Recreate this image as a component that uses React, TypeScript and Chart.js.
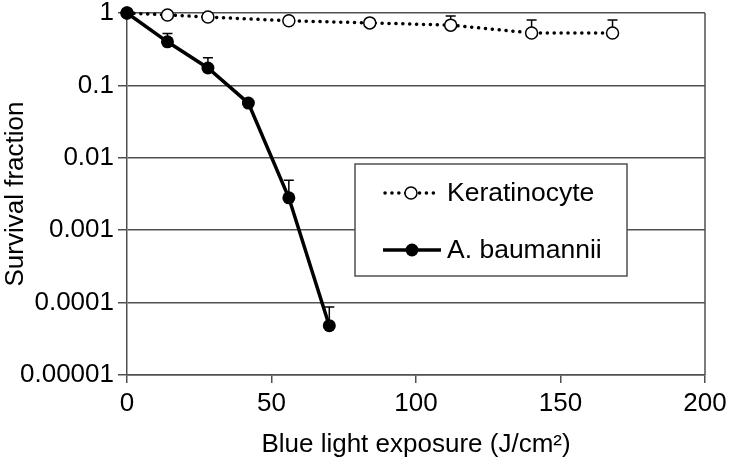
import React, { useEffect, useRef } from 'react';
import { Chart, registerables } from 'chart.js';
Chart.register(...registerables);

const exposureBaumannii = [0, 14, 28, 42, 56, 70];
const survivalBaumannii = [1, 0.40, 0.174, 0.057, 0.0028, 0.000048];
const errorUpperBaumannii = [null, 0.52, 0.24, null, 0.0049, 0.000087];

const exposureKeratinocyte = [0, 14, 28, 56, 84, 112, 140, 168];
const survivalKeratinocyte = [1, 0.94, 0.88, 0.78, 0.73, 0.68, 0.53, 0.53];
const errorUpperKeratinocyte = [null, null, null, null, null, 0.91, 0.8, 0.8];

const yTickValues = [1, 0.1, 0.01, 0.001, 0.0001, 0.00001];
const yTickLabels = ['1', '0.1', '0.01', '0.001', '0.0001', '0.00001'];
const xTickValues = [0, 50, 100, 150, 200];
const seriesNames = ['Keratinocyte', 'A. baumannii'];
const xTitle = 'Blue light exposure (J/cm²)';
const yTitle = 'Survival fraction';

const FONT = "'Liberation Sans', Arial, Helvetica, sans-serif";
const GRID = '#505050';

const errorBarPlugin = {
  id: 'errorBars',
  beforeDatasetsDraw(chart: any) {
    const ctx = chart.ctx;
    const xs = chart.scales.x;
    const ys = chart.scales.y;
    const sets = [
      { xv: exposureBaumannii, yv: survivalBaumannii, up: errorUpperBaumannii },
      { xv: exposureKeratinocyte, yv: survivalKeratinocyte, up: errorUpperKeratinocyte },
    ];
    ctx.save();
    ctx.strokeStyle = '#000';
    ctx.lineWidth = 1.5;
    for (const s of sets) {
      s.xv.forEach((xv: number, i: number) => {
        const u = s.up[i];
        if (u == null) return;
        const px = xs.getPixelForValue(xv);
        const py = ys.getPixelForValue(s.yv[i]);
        const pu = ys.getPixelForValue(u);
        ctx.beginPath();
        ctx.moveTo(px, py);
        ctx.lineTo(px, pu);
        ctx.moveTo(px - 5, pu);
        ctx.lineTo(px + 5, pu);
        ctx.stroke();
      });
    }
    ctx.restore();
  },
};

const framePlugin = {
  id: 'frameRight',
  beforeDatasetsDraw(chart: any) {
    const { ctx, chartArea } = chart;
    ctx.save();
    ctx.strokeStyle = GRID;
    ctx.lineWidth = 1.5;
    ctx.beginPath();
    ctx.moveTo(chartArea.right, chartArea.top);
    ctx.lineTo(chartArea.right, chartArea.bottom);
    ctx.stroke();
    ctx.restore();
  },
};

const legendPlugin = {
  id: 'boxLegend',
  afterDraw(chart: any) {
    const ctx = chart.ctx;
    const bx = 355, by = 164, bw = 272, bh = 112;
    ctx.save();
    ctx.fillStyle = '#fff';
    ctx.fillRect(bx, by, bw, bh);
    ctx.strokeStyle = GRID;
    ctx.lineWidth = 1.5;
    ctx.strokeRect(bx, by, bw, bh);

    // Keratinocyte
    const y1 = 193;
    ctx.strokeStyle = '#000';
    ctx.lineWidth = 3.5;
    ctx.lineCap = 'round';
    ctx.setLineDash([0.1, 6.8]);
    ctx.beginPath();
    ctx.moveTo(385, y1);
    ctx.lineTo(440, y1);
    ctx.stroke();
    ctx.setLineDash([]);
    ctx.beginPath();
    ctx.arc(411, y1, 6, 0, Math.PI * 2);
    ctx.fillStyle = '#fff';
    ctx.fill();
    ctx.lineWidth = 1.5;
    ctx.stroke();

    // A. baumannii
    const y2 = 250;
    ctx.lineWidth = 3.5;
    ctx.lineCap = 'butt';
    ctx.beginPath();
    ctx.moveTo(383, y2);
    ctx.lineTo(441, y2);
    ctx.stroke();
    ctx.beginPath();
    ctx.arc(412, y2, 6.5, 0, Math.PI * 2);
    ctx.fillStyle = '#000';
    ctx.fill();

    ctx.fillStyle = '#000';
    ctx.font = `26.5px ${FONT}`;
    ctx.textBaseline = 'middle';
    ctx.textAlign = 'left';
    ctx.fillText(seriesNames[0], 447, y1 + 1);
    ctx.fillText(seriesNames[1], 447, y2 + 1);
    ctx.restore();
  },
};

export default function App() {
  const ref = useRef<HTMLCanvasElement>(null);
  useEffect(() => {
    if (!ref.current) return;
    const chart = new Chart(ref.current, {
      type: 'line',
      data: {
        datasets: [
          {
            label: seriesNames[1],
            data: exposureBaumannii.map((x, i) => ({ x, y: survivalBaumannii[i] })),
            borderColor: '#000',
            backgroundColor: '#000',
            borderWidth: 3.5,
            pointRadius: 6.5,
            pointBackgroundColor: '#000',
            pointBorderColor: '#000',
            pointBorderWidth: 0,
            tension: 0,
            clip: false as any,
            order: 0,
          },
          {
            label: seriesNames[0],
            data: exposureKeratinocyte.map((x, i) => ({ x, y: survivalKeratinocyte[i] })),
            borderColor: '#000',
            borderWidth: 3.5,
            borderDash: [0.1, 6.8],
            borderCapStyle: 'round',
            pointRadius: 6,
            pointBackgroundColor: '#fff',
            pointBorderColor: '#000',
            pointBorderWidth: 1.5,
            tension: 0,
            clip: false as any,
            order: 1,
          },
        ],
      },
      options: {
        animation: false,
        responsive: false,
        maintainAspectRatio: false,
        layout: { padding: { top: 13, right: 25, left: 0, bottom: 0 } },
        plugins: { legend: { display: false }, tooltip: { enabled: false } },
        scales: {
          x: {
            type: 'linear',
            min: 0,
            max: 200,
            afterBuildTicks: (s: any) => { s.ticks = xTickValues.map(v => ({ value: v })); },
            afterFit: (s: any) => { s.height = 90; s.paddingRight = 0; s.paddingLeft = 0; },
            ticks: { font: { size: 26, family: FONT, lineHeight: 1 }, color: '#000', padding: 8, maxRotation: 0 },
            grid: { drawOnChartArea: false, drawTicks: true, tickLength: 8, color: GRID, lineWidth: 1.5 },
            border: { display: true, color: GRID, width: 1.5 },
            title: { display: true, text: xTitle, font: { size: 26, family: FONT, lineHeight: 1.2 }, color: '#000', padding: { top: 0, bottom: 5 } },
          },
          y: {
            type: 'logarithmic',
            min: 0.00001,
            max: 1,
            afterBuildTicks: (s: any) => { s.ticks = yTickValues.map(v => ({ value: v })); },
            afterFit: (s: any) => { s.width = 127; s.paddingTop = 0; s.paddingBottom = 0; },
            ticks: {
              font: { size: 26, family: FONT, lineHeight: 1 },
              color: '#000',
              padding: 4,
              callback: (v: any) => {
                const i = yTickValues.findIndex(t => Math.abs(Math.log10(t) - Math.log10(v)) < 1e-6);
                return i >= 0 ? yTickLabels[i] : '';
              },
            },
            grid: { drawOnChartArea: true, drawTicks: true, tickLength: 9, color: GRID, lineWidth: 1.5 },
            border: { display: true, color: GRID, width: 1.5 },
            title: { display: true, text: yTitle, font: { size: 26, family: FONT, lineHeight: 1.2 }, color: '#000', padding: 0 },
          },
        },
      },
      plugins: [framePlugin, errorBarPlugin, legendPlugin],
    });
    return () => chart.destroy();
  }, []);
  return (
    <div style={{ position: 'absolute', left: 0, top: 0, width: 730, height: 465, background: '#fff' }}>
      <canvas ref={ref} width={730} height={465} style={{ display: 'block' }} />
    </div>
  );
}
